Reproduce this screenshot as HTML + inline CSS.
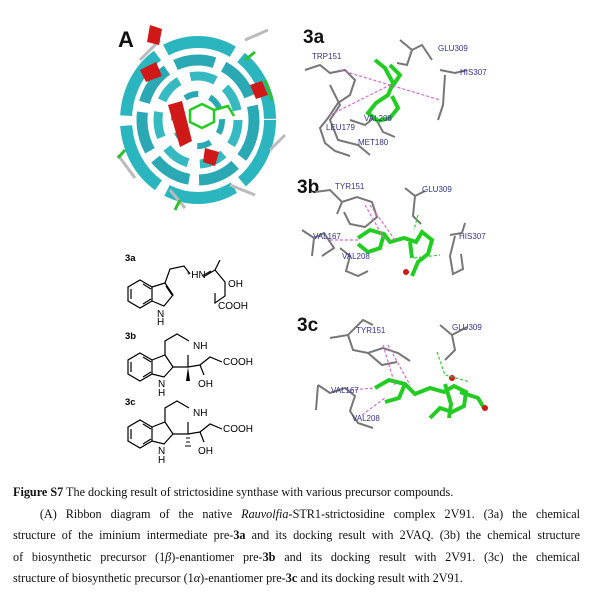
<!DOCTYPE html>
<html><head><meta charset="utf-8"><style>
html,body{margin:0;padding:0;background:#fff;}
body{width:600px;height:594px;position:relative;overflow:hidden;font-family:"Liberation Serif",serif;}
.cap{position:absolute;left:13px;width:567px;font-size:12.2px;line-height:21.5px;color:#111;}
.cap div{text-align:justify;text-align-last:justify;white-space:nowrap;}
.cap div.l{text-align-last:left;}
svg{position:absolute;left:0;top:0;}
.lb{font-family:"Liberation Sans",sans-serif;font-size:8px;fill:#33338a;}
.big{font-family:"Liberation Sans",sans-serif;font-weight:bold;fill:#111;}
.ch{font-family:"Liberation Sans",sans-serif;font-size:10px;fill:#000;}
</style></head><body>
<svg width="600" height="470" viewBox="0 0 600 470">
<text x="118" y="47" class="big" font-size="22">A</text>
<g fill="none" stroke-linecap="butt">
<ellipse cx="198" cy="120" rx="72" ry="78" stroke="#2bb5bf" stroke-width="12" stroke-dasharray="70 10"/>
<ellipse cx="198" cy="120" rx="56" ry="60" stroke="#2aa8b3" stroke-width="11" stroke-dasharray="40 10"/>
<ellipse cx="198" cy="120" rx="40" ry="44" stroke="#37b9c2" stroke-width="9" stroke-dasharray="26 12"/>
<ellipse cx="198" cy="120" rx="24" ry="26" stroke="#2aa8b3" stroke-width="6" stroke-dasharray="14 12"/>
<path d="M140 60 L160 40 M245 40 L268 30 M118 155 L135 178 M170 190 L185 208 M270 150 L285 135 M230 185 L255 195" stroke="#bbb" stroke-width="3"/>
<path d="M125 150 L118 158 M265 80 L272 100 M180 200 L175 210 M245 60 L255 52" stroke="#2fbf2f" stroke-width="3"/>
</g>
<g fill="#d01818">
<path d="M150 25 l12 4 l-3 16 l-12 -3z"/>
<path d="M140 70 l16 -8 l6 14 l-16 6z"/>
<path d="M168 105 l14 -4 l10 40 l-12 6z"/>
<path d="M250 85 l12 -4 l6 14 l-12 4z"/>
<path d="M205 148 l14 4 l-4 14 l-12 -4z"/>
</g>
<g stroke="#22cc22" stroke-width="2.5" fill="none"><path d="M190 110 l12 -6 l12 6 l0 12 l-12 6 l-12 -6z M214 110 l14 -4 l6 10"/></g>
<text x="303" y="43" class="big" font-size="19">3a</text>
<g stroke="#777" stroke-width="2" fill="none">
<path d="M305 70 l15 -5 l10 8 l15 -3 l10 10 l-5 15 l-12 8 l-10 15 l-8 10 l5 15 l10 8 l15 5"/>
<path d="M330 85 l10 20 l-10 15 l8 20 l20 5 l12 10"/>
<path d="M400 40 l12 10 l10 -5 l10 15 M412 50 l-5 15 l-10 -2"/>
<path d="M440 70 l15 3 l12 -3 M445 75 l-2 30 l-5 15"/>
<path d="M350 120 l15 5 l10 -8 l8 15 l12 5"/>
</g>
<g stroke="#22cc22" stroke-width="4" fill="none"><path d="M375 60 l10 8 l8 15 l-5 12 l-12 8 l-8 10 l10 8 l12 -3 l8 -10 l-6 -12 M390 65 l10 10 l-8 12"/></g>
<g stroke="#d36bd3" stroke-width="1.2" stroke-dasharray="3 2" fill="none"><path d="M340 70 L440 100 M330 115 L390 85"/></g>
<text x="312" y="59" class="lb">TRP151</text><text x="438" y="51" class="lb">GLU309</text>
<text x="460" y="75" class="lb">HIS307</text><text x="364" y="121" class="lb">VAL208</text>
<text x="326" y="130" class="lb">LEU179</text><text x="358" y="145" class="lb">MET180</text>
<text x="297" y="193" class="big" font-size="19">3b</text>
<g stroke="#777" stroke-width="2" fill="none">
<path d="M315 192 l15 -2 l12 12 l15 -5 l15 5 l5 15 l-12 10 l-15 -3 l-6 -12 M342 202 l-5 12"/>
<path d="M302 230 l12 8 l10 -5 l10 15 l-12 8 M314 238 l-2 18"/>
<path d="M340 248 l10 8 l-4 15 l12 5 l10 -5"/>
<path d="M405 188 l10 8 l-2 20 l8 8 M415 196 l10 -5"/>
<path d="M450 235 l12 -2 l3 -10 M455 236 l-5 20 l3 18 l10 -5 l-2 -15"/>
</g>
<g stroke="#22cc22" stroke-width="4" fill="none"><path d="M358 238 l12 -8 l14 4 l6 8 l14 -4 l12 4 l6 -10 l10 8 l-4 14 l-10 8 l-6 14 M384 234 l-4 14 l-12 4 l-10 -8 M410 242 l2 16"/></g>
<g fill="#d01818"><circle cx="406" cy="272" r="3"/></g>
<g stroke="#d36bd3" stroke-width="1.2" stroke-dasharray="3 2" fill="none"><path d="M365 205 L385 240 M370 205 L395 240 M330 240 L360 240"/></g>
<g stroke="#33cc33" stroke-width="1.2" stroke-dasharray="3 2" fill="none"><path d="M418 215 L414 230 M414 258 L440 255"/></g>
<text x="335" y="189" class="lb">TYR151</text><text x="422" y="192" class="lb">GLU309</text>
<text x="313" y="239" class="lb">VAL167</text><text x="459" y="239" class="lb">HIS307</text>
<text x="342" y="259" class="lb">VAL208</text>
<text x="297" y="331" class="big" font-size="19">3c</text>
<g stroke="#777" stroke-width="2" fill="none">
<path d="M330 338 l18 -3 l15 -15 l10 5 M348 335 l5 15 l15 3 l15 -5 l15 5 l12 8 M368 353 l14 12 l15 -3"/>
<path d="M318 385 l12 8 l15 -5 l10 8 l-5 15 l8 12 l15 5 M318 385 l-2 25"/>
<path d="M440 325 l12 10 l3 15 l-10 10 M452 335 l15 -8"/>
</g>
<g stroke="#22cc22" stroke-width="4" fill="none"><path d="M375 388 l14 -8 l16 4 l10 10 l15 -6 l14 4 l10 -6 l12 6 l-2 14 l-12 6 l-12 -4 l-10 10 M405 384 l-6 14 l-14 4 M445 384 l6 20 l-2 14 M460 392 l18 6 l6 10"/></g>
<g fill="#d01818"><circle cx="452" cy="378" r="3"/><circle cx="485" cy="408" r="3"/></g>
<g stroke="#d36bd3" stroke-width="1.2" stroke-dasharray="3 2" fill="none"><path d="M383 345 L395 385 M388 345 L410 385 M350 390 L375 388 M362 415 L385 398"/></g>
<g stroke="#33cc33" stroke-width="1.2" stroke-dasharray="3 2" fill="none"><path d="M437 352 L445 375 L470 382"/></g>
<text x="356" y="333" class="lb">TYR151</text><text x="452" y="330" class="lb">GLU309</text>
<text x="331" y="393" class="lb">VAL167</text><text x="352" y="421" class="lb">VAL208</text>
<g stroke="#000" stroke-width="1.2" fill="none">
<path d="M140 280 l12 7 l0 14 l-12 7 l-12 -7 l0 -14z M143 284 l8 5 M143 304 l8 -5 M131 289 l0 10"/>
<path d="M152 287 l13 -4 l8 12 l-9 11 l-12 -5 M166 286 l6 9"/>
<path d="M165 283 l5 -14 l14 -3 l6 8"/>
<path d="M205 276 l10 -6 M202 276 l9 -5 M215 270 l5 -10 M215 270 l10 12 l0 14 l-10 7 l0 -10"/>
<path d="M140 353 l12 7 l0 14 l-12 7 l-12 -7 l0 -14z M143 357 l8 5 M143 377 l8 -5 M131 362 l0 10"/>
<path d="M152 360 l13 -5 l8 12 l-9 10 l-12 -3 M165 355 l6 9"/>
<path d="M165 355 l0 -14 l12 -7 l12 7 M173 367 l15 0 l0 -12 M188 367 l12 -2 l10 -8 l12 5 M200 365 l4 10"/>
<path d="M140 420 l12 7 l0 14 l-12 7 l-12 -7 l0 -14z M143 424 l8 5 M143 444 l8 -5 M131 429 l0 10"/>
<path d="M152 427 l13 -5 l8 12 l-9 10 l-12 -3 M165 422 l6 9"/>
<path d="M165 422 l0 -14 l12 -7 l12 7 M173 434 l15 0 l0 -12 M188 434 l12 -2 l10 -8 l12 5 M200 432 l4 10"/>
</g>
<path d="M188 367 l-2 14 l4 0z" fill="#000"/>
<path d="M186 438 l4 0 M186 442 l4 0 M185 446 l6 0" stroke="#000" stroke-width="1"/>
<g class="ch">
<text x="125" y="261" font-weight="bold" font-size="9.5">3a</text>
<text x="186" y="278">⁺HN</text><text x="228" y="287">OH</text><text x="218" y="309">COOH</text><text x="157" y="317">N</text><text x="157" y="325">H</text>
<text x="125" y="339" font-weight="bold" font-size="9.5">3b</text>
<text x="193" y="349">NH</text><text x="223" y="365">COOH</text><text x="198" y="387">OH</text><text x="158" y="387">N</text><text x="158" y="396">H</text>
<text x="125" y="405" font-weight="bold" font-size="9.5">3c</text>
<text x="193" y="416">NH</text><text x="223" y="432">COOH</text><text x="198" y="454">OH</text><text x="158" y="454">N</text><text x="158" y="463">H</text>
</g>
</svg>
<div class="cap" style="top:482px;">
<div class="l"><b>Figure S7</b> The docking result of strictosidine synthase with various precursor compounds.</div>
<div>&nbsp;&nbsp;&nbsp;(A) Ribbon diagram of the native <i>Rauvolfia</i>-STR1-strictosidine complex 2V91. (3a) the chemical</div>
<div>structure of the iminium intermediate pre-<b>3a</b> and its docking result with 2VAQ. (3b) the chemical structure</div>
<div>of biosynthetic precursor (1<i>β</i>)-enantiomer pre-<b>3b</b> and its docking result with 2V91. (3c) the chemical</div>
<div class="l">structure of biosynthetic precursor (1<i>α</i>)-enantiomer pre-<b>3c</b> and its docking result with 2V91.</div>
</div>
</body></html>
